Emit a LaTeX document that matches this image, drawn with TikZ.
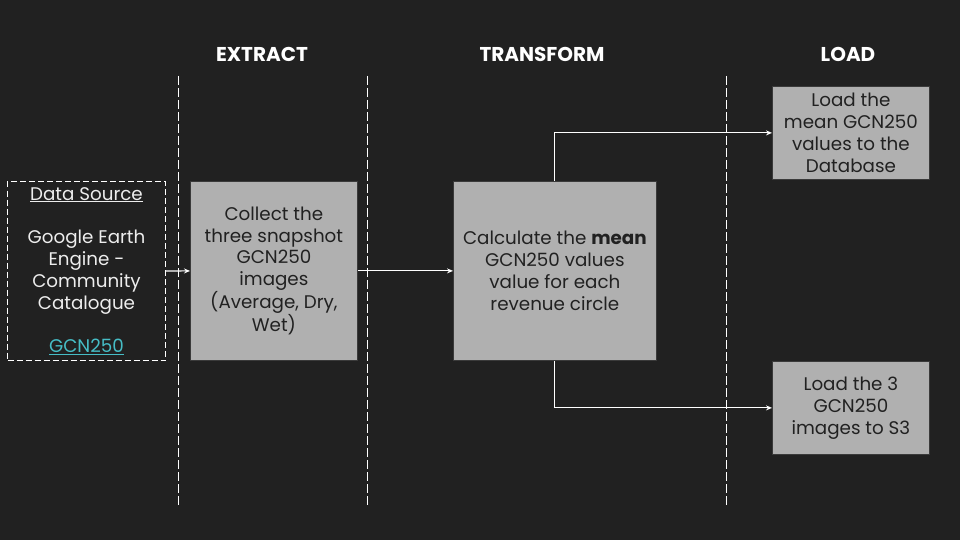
\documentclass[tikz,border=0pt]{standalone}
\usepackage{fontspec}
\setmainfont{Poppins}
\usepackage{tikz}
\usetikzlibrary{arrows.meta, positioning}
\definecolor{bg}{HTML}{212121}
\definecolor{boxgray}{HTML}{B0B0B0}
\definecolor{boxedge}{HTML}{3A3A3A}
\definecolor{linkcyan}{HTML}{46BDC6}

\begin{document}
\begin{tikzpicture}[x=1pt, y=-1pt,
        box/.style={minimum width=#1pt, anchor=north west, align=center, inner sep=0pt,
            font=\fontsize{18.3}{21.8}\selectfont},
        stage/.style={box=#1, fill=boxgray, draw=boxedge, line width=0.8pt, text=bg},
        source/.style={box=#1, draw=white, dash pattern=on 6pt off 3pt, line width=1pt, text=white!93!black},
        head/.style={text=white, font=\fontsize{20}{24}\selectfont\bfseries},
        divider/.style={draw=white, dash pattern=on 9pt off 3pt, line width=1pt},
        flow/.style={draw=white, line width=1.1pt, -{Stealth[length=6pt, width=5pt]}}]
        \useasboundingbox[fill=bg] (0,0) rectangle (960,540);
        \foreach \x in {178,367,726}{
            \draw[divider] (\x,76) -- (\x,507);
        }
        \node[head] (extract) at (262,54) {EXTRACT};
        \node[head] (transform) at (542,54) {TRANSFORM};
        \node[head] (load) at (848,54) {LOAD};
        \node[source=158, minimum height=179pt] (src) at (7,181)
            {\underline{Data Source}\\[21.8pt]Google Earth\\Engine -\\Community\\Catalogue\\[21.8pt]\textcolor{linkcyan}{\underline{GCN250}}};
        \node[stage=167, minimum height=179pt] (collect) at (190,181)
            {Collect the\\three snapshot\\GCN250\\images\\(Average, Dry,\\Wet)};
        \node[stage=203, minimum height=179pt] (calc) at (453,181)
            {Calculate the \textbf{mean}\\GCN250 values\\value for each\\revenue circle};
        \node[stage=157, minimum height=93pt] (loaddb) at (772,86)
            {Load the\\mean GCN250\\values to the\\Database};
        \node[stage=157, minimum height=93pt] (loads3) at (772,361)
            {Load the 3\\GCN250\\images to S3};
        \draw[flow] (src) -- (collect);
        \draw[flow] (collect) -- (calc);
        \draw[flow] (calc.north) |- (loaddb.west);
        \draw[flow] (calc.south) |- (loads3.west);
\end{tikzpicture}
\end{document}
